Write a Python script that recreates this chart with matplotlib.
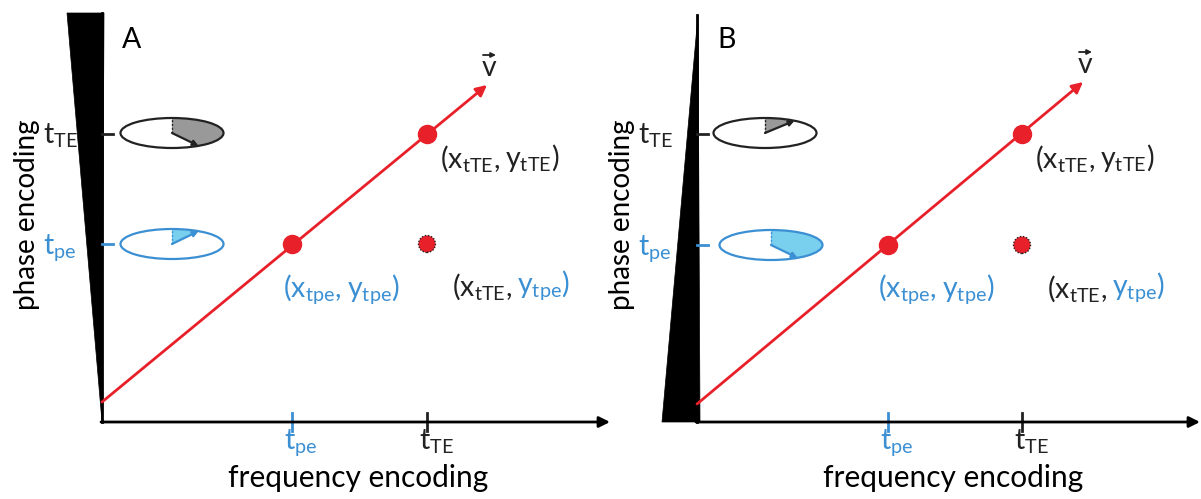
import numpy as np
import matplotlib.pyplot as plt
from matplotlib.patches import Polygon, Ellipse, Circle
from matplotlib.transforms import Affine2D

plt.rcParams['font.family'] = ['Lato', 'DejaVu Sans']
plt.rcParams['mathtext.fontset'] = 'custom'
plt.rcParams['mathtext.rm'] = 'Lato'
plt.rcParams['mathtext.it'] = 'Lato:italic'

BLUE = '#3b8fd3'
LIGHTBLUE = '#79cfee'
RED = '#e8202a'
GRAY = '#999999'
DARK = '#222222'

# diagram values, panel units (1 unit = 1 pixel, origin at the axes corner)
panel_names = ['A', 'B']
panel_x0 = [102, 697]
t_pe = [190, 191]            # frequency-encoding time of phase encoding
t_TE = [325, 325]            # frequency-encoding time of echo
y_pe = [178, 177]            # phase-encoding level at t_pe
y_TE = [288, 288]            # phase-encoding level at t_TE
v_start = [20, 18]           # red trajectory start on phase axis
v_tip_x = [385, 386]
v_tip_y = [337, 340]
x_axis_end = [508, 503]
y_axis_top = [409, 407]
gradient_A = [(-35, 409), (2, 409), (0, 0)]      # wedge shapes
gradient_B = [(1, 407), (3, 0), (-35, 0)]
ell_cx_TE = [70, 68]
ell_cx_pe = [70, 74]
phase_TE = [-59, 55]        # accumulated phase angle at t_TE (deg)
phase_pe = [59, -59]        # accumulated phase angle at t_pe (deg)

FS = 20.5

fig = plt.figure(figsize=(12.01, 4.99), dpi=100)
ax = fig.add_axes([0, 0, 1, 1])
ax.set_xlim(0, 1201)
ax.set_ylim(0, 499)
ax.axis('off')
base_y = 77


def sector(cx, cy, a, b, t0, t1):
    t = np.radians(np.linspace(t0, t1, 60))
    pts = np.column_stack([cx + a * np.cos(t), cy + b * np.sin(t)])
    return np.vstack([[cx, cy], pts])


def phase_ellipse(tr, cx, cy, ang, edge, fill):
    a, b = 51.5, 15
    ax.add_patch(Polygon(sector(cx, cy, a, b, min(ang, 90), max(ang, 90)),
                         closed=True, fc=fill, ec='none', transform=tr))
    ax.add_patch(Ellipse((cx, cy), 2 * a, 2 * b, fc='none', ec=edge, lw=1.6,
                         transform=tr))
    ax.plot([cx, cx], [cy, cy + b], ls=(0, (1.5, 1.2)), lw=1, color=edge,
            transform=tr)
    t = np.radians(ang)
    ax.annotate('', xy=(cx + a * np.cos(t), cy + b * np.sin(t)), xytext=(cx, cy),
                xycoords=tr, textcoords=tr,
                arrowprops=dict(arrowstyle='-|>', lw=1.6, color=edge,
                                mutation_scale=8, shrinkA=0, shrinkB=0))


def label_pair(tr, x, y, xs, ys, cx, cy):
    t1 = ax.text(x, y, r'$(\mathrm{x}_{\mathrm{' + xs + r'}},$', color=cx,
                 fontsize=FS, transform=tr, va='baseline', ha='left')
    ax.annotate(r'$\mathrm{y}_{\mathrm{' + ys + r'}})$', xy=(1, 0), xycoords=t1,
                xytext=(3.5, 0), textcoords='offset points',
                color=cy, fontsize=FS, va='bottom', ha='left')


for k in range(2):
    tr = Affine2D().translate(panel_x0[k], base_y) + ax.transData
    wedge = gradient_A if k == 0 else gradient_B
    ax.add_patch(Polygon(wedge, closed=True, fc='black', ec='black', lw=0.5,
                         transform=tr))
    # axes
    ax.plot([0, 0], [0, y_axis_top[k]], color='black', lw=2, transform=tr)
    ax.annotate('', xy=(x_axis_end[k], 0), xytext=(-1, 0), xycoords=tr,
                textcoords=tr,
                arrowprops=dict(arrowstyle='-|>', lw=2, color='black',
                                mutation_scale=16, shrinkA=0, shrinkB=0))
    # ticks
    ax.plot([0, 11], [y_TE[k], y_TE[k]], color=DARK, lw=2, transform=tr)
    ax.plot([0, 11], [y_pe[k], y_pe[k]], color=BLUE, lw=2, transform=tr)
    ax.plot([t_pe[k], t_pe[k]], [-9, 9], color=BLUE, lw=2, transform=tr)
    ax.plot([t_TE[k], t_TE[k]], [-9, 9], color=DARK, lw=2, transform=tr)
    # tick labels
    ax.text(-59, y_TE[k] - 9, r'$\mathrm{t}_{\mathrm{TE}}$', fontsize=FS,
            color=DARK, transform=tr, va='baseline', ha='left')
    ax.text(-59, y_pe[k] - 9, r'$\mathrm{t}_{\mathrm{pe}}$', fontsize=FS,
            color=BLUE, transform=tr, va='baseline', ha='left')
    ax.text(t_pe[k] - 8, -27, r'$\mathrm{t}_{\mathrm{pe}}$', fontsize=FS,
            color=BLUE, transform=tr, va='baseline', ha='left')
    ax.text(t_TE[k] - 8, -27, r'$\mathrm{t}_{\mathrm{TE}}$', fontsize=FS,
            color=DARK, transform=tr, va='baseline', ha='left')
    # axis titles
    ax.text(256, -56, 'frequency encoding', fontsize=21.5, color='black',
            transform=tr, ha='center', va='center')
    ax.text(-75, 207, 'phase encoding', fontsize=20, color='black',
            rotation=90, transform=tr, ha='center', va='center')
    ax.text(20, 382, panel_names[k], fontsize=FS, color='black',
            transform=tr, ha='left', va='center')
    # red trajectory
    ax.annotate('', xy=(v_tip_x[k], v_tip_y[k]), xytext=(0, v_start[k]),
                xycoords=tr, textcoords=tr,
                arrowprops=dict(arrowstyle='-|>', lw=2, color=RED,
                                mutation_scale=16, shrinkA=0, shrinkB=0))
    ax.text(v_tip_x[k] + 2, v_tip_y[k] + 17, 'v', fontsize=FS, color=DARK,
            transform=tr, ha='center', va='center')
    ax.annotate('', xy=(v_tip_x[k] + 9, v_tip_y[k] + 30),
                xytext=(v_tip_x[k] - 4, v_tip_y[k] + 30),
                xycoords=tr, textcoords=tr,
                arrowprops=dict(arrowstyle='-|>', lw=1.3, color=DARK,
                                mutation_scale=7, shrinkA=0, shrinkB=0))
    ax.plot([t_pe[k], t_TE[k]], [y_pe[k], y_TE[k]], 'o', ms=13, color=RED,
            mec=RED, transform=tr)
    ax.add_patch(Circle((t_TE[k], y_pe[k]), 8.5, fc=RED, ec=DARK, lw=1,
                        ls=(0, (1, 1.2)), transform=tr))
    # coordinate labels
    label_pair(tr, 338, y_TE[k] - 33, 'tTE', 'tTE', DARK, DARK)
    label_pair(tr, 181, y_pe[k] - 52, 'tpe', 'tpe', BLUE, BLUE)
    label_pair(tr, 350, y_pe[k] - 52, 'tTE', 'tpe', DARK, BLUE)
    # phase ellipses
    phase_ellipse(tr, ell_cx_TE[k], y_TE[k] + 1, phase_TE[k], DARK, GRAY)
    phase_ellipse(tr, ell_cx_pe[k], y_pe[k], phase_pe[k], BLUE, LIGHTBLUE)

fig.savefig('out.png', dpi=100)
